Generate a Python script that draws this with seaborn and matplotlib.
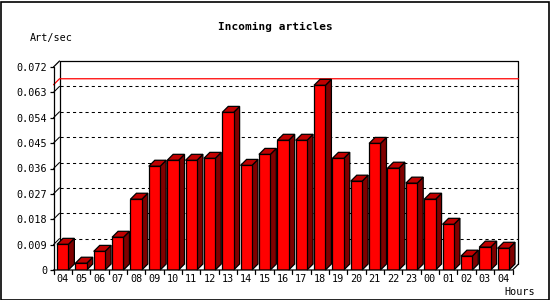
import matplotlib
matplotlib.use("Agg")
import matplotlib.pyplot as plt
import seaborn as sns
import pandas as pd
from matplotlib.patches import Polygon, Rectangle

hours = ["04", "05", "06", "07", "08", "09", "10", "11", "12", "13", "14", "15",
         "16", "17", "18", "19", "20", "21", "22", "23", "00", "01", "02", "03", "04"]
rates = [0.0091, 0.0024, 0.0066, 0.0116, 0.0251, 0.0368, 0.0389, 0.0389, 0.0396,
         0.0559, 0.0371, 0.0410, 0.0460, 0.0460, 0.0655, 0.0396, 0.0315, 0.0449,
         0.0361, 0.0308, 0.0251, 0.0162, 0.0049, 0.0081, 0.0077]
yticks = [0, 0.009, 0.018, 0.027, 0.036, 0.045, 0.054, 0.063, 0.072]
ytick_labels = ["0", "0.009", "0.018", "0.027", "0.036", "0.045", "0.054", "0.063", "0.072"]
max_line = 0.0657

df = pd.DataFrame({"pos": list(range(len(hours))), "rate": rates})

sns.set_theme(style="white")
plt.rcParams["font.family"] = ["DejaVu Sans Mono"]

W, H = 550, 300
fig = plt.figure(figsize=(W / 100, H / 100), dpi=100)
fig.patch.set_facecolor("white")

# axes geometry in pixels
x0, x1 = 53.5, 512.5
yb, yt = 270, 67
ax = fig.add_axes([x0 / W, (H - yb) / H, (x1 - x0) / W, (yb - yt) / H])
n = len(hours)
xmin, xmax = -0.5, n - 0.5
ymin, ymax = 0, 0.072
ax.set_xlim(xmin, xmax)
ax.set_ylim(ymin, ymax)
ax.set_facecolor("none")
for s in ax.spines.values():
    s.set_visible(False)

# depth offset (6 px) in data units
dx = 6 * (xmax - xmin) / (x1 - x0)
dy = 6 * (ymax - ymin) / (yb - yt)
lw = 0.9

sns.barplot(data=df, x="pos", y="rate", color="#ff0000", width=0.62,
            saturation=1, edgecolor="black", linewidth=lw, ax=ax,
            native_scale=True, zorder=5)

# back wall
ax.plot([xmin + dx, xmin + dx, xmax + dx, xmax + dx],
        [dy, ymax + dy, ymax + dy, dy], color="black", lw=lw, zorder=2,
        clip_on=False)
# gridlines on back wall
for t in yticks[1:-1]:
    ax.plot([xmin + dx, xmax + dx], [t + dy, t + dy], color="black", lw=0.75,
            linestyle=(0, (3, 3)), zorder=1, clip_on=False)
    ax.plot([xmin, xmin + dx], [t, t + dy], color="black", lw=0.75, zorder=1, clip_on=False)
ax.plot([xmin, xmin + dx], [ymax, ymax + dy], color="black", lw=lw, zorder=2, clip_on=False)
# max line
ax.plot([xmin, xmin + dx, xmax + dx], [max_line, max_line + dy, max_line + dy],
        color="#ff0000", lw=lw, zorder=3, clip_on=False)
# front axis lines
ax.plot([xmin, xmin], [0, ymax], color="black", lw=lw, zorder=6, clip_on=False)
ax.plot([xmin, xmax, xmax + dx], [0, 0, dy], color="black", lw=lw, zorder=6, clip_on=False)

# 3D faces for bars
for p in ax.patches[:]:
    if not isinstance(p, Rectangle):
        continue
    bx, by = p.get_x(), p.get_y()
    bw, bh = p.get_width(), p.get_height()
    if bw <= 0 or bw > 1:
        continue
    xl, xr, top = bx, bx + bw, by + bh
    floor = Polygon([(xl, 0), (xr, 0), (xr + dx, dy), (xl + dx, dy)],
                    closed=True, facecolor="#808080", edgecolor="none", zorder=4)
    side = Polygon([(xr, 0), (xr + dx, dy), (xr + dx, top + dy), (xr, top)],
                   closed=True, facecolor="#800000", edgecolor="black", lw=lw, zorder=4.5)
    topf = Polygon([(xl, top), (xl + dx, top + dy), (xr + dx, top + dy), (xr, top)],
                   closed=True, facecolor="#c00000", edgecolor="black", lw=lw, zorder=4.5)
    for poly in (floor, side, topf):
        poly.set_clip_on(False)
        ax.add_patch(poly)

# ticks
ax.set_yticks(yticks)
ax.set_yticklabels(ytick_labels)
ax.set_xticks([i for i in range(n)])
ax.set_xticklabels(hours)
ax.tick_params(axis="y", length=3, width=lw, color="black", pad=1.5,
               labelsize=7.3, left=True)
ax.tick_params(axis="x", length=0, pad=3, labelsize=7.3, bottom=False)
for i in range(n + 1):
    ax.plot([xmin + i, xmin + i], [0, -4 * (ymax - ymin) / (yb - yt)], color="black",
            lw=lw, clip_on=False, zorder=6)
for lab in ax.get_xticklabels() + ax.get_yticklabels():
    lab.set_color("black")
ax.set_xlabel("")
ax.set_ylabel("")

fig.text(275 / W, 1 - 27 / H, "Incoming articles", ha="center", va="center",
         fontsize=8, fontweight="bold", color="black")
fig.text(30 / W, 1 - 38 / H, "Art/sec", ha="left", va="center", fontsize=7.3, color="black")
fig.text(535 / W, 1 - 292 / H, "Hours", ha="right", va="center", fontsize=7.3, color="black")

fig.add_artist(Rectangle((0.5 / W, 0.5 / H), (W - 2) / W, (H - 2) / H,
                         transform=fig.transFigure, fill=False, edgecolor="black", lw=1.2))

fig.savefig("out.png", dpi=100, facecolor="white")
